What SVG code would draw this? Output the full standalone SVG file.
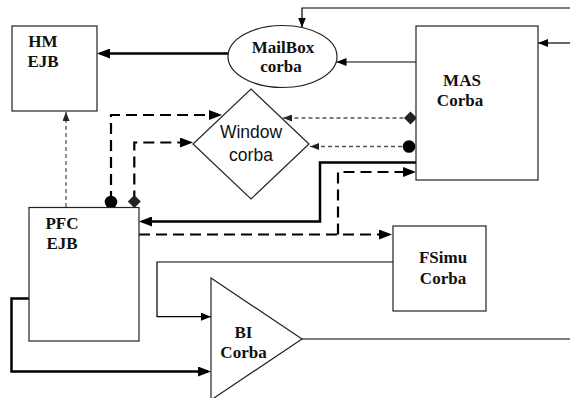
<svg xmlns="http://www.w3.org/2000/svg" width="570" height="398" viewBox="0 0 570 398">
<style>
.box{fill:#fff;stroke:#222;stroke-width:1.2}
.lbl{font-family:"Liberation Serif",serif;font-weight:bold;font-size:17px;fill:#111;text-anchor:middle}
.sans{font-family:"Liberation Sans",Arial,sans-serif;font-size:17.5px;fill:#111;text-anchor:middle}
.thin{fill:none;stroke:#000;stroke-width:1.2}
.thick{fill:none;stroke:#000;stroke-width:2.5}
.dash{fill:none;stroke:#000;stroke-width:2.2;stroke-dasharray:11,6}
.gdash{fill:none;stroke:#555;stroke-width:1.3;stroke-dasharray:4,3}
</style>
<defs>
<marker id="aThin" markerUnits="userSpaceOnUse" markerWidth="10" markerHeight="8" viewBox="0 0 10 8" refX="10" refY="4" orient="auto"><path d="M0,0 L10,4 L0,8 z" fill="#000"/></marker>
<marker id="aThick" markerUnits="userSpaceOnUse" markerWidth="13" markerHeight="10" viewBox="0 0 13 10" refX="10" refY="5" orient="auto"><path d="M0,0 L13,5 L0,10 z" fill="#000"/></marker>
<marker id="aGray" markerUnits="userSpaceOnUse" markerWidth="9" markerHeight="7" viewBox="0 0 9 7" refX="9" refY="3.5" orient="auto"><path d="M0,0 L9,3.5 L0,7 z" fill="#222"/></marker>
<marker id="mDot" markerUnits="userSpaceOnUse" markerWidth="14" markerHeight="14" viewBox="0 0 14 14" refX="7" refY="7" orient="auto"><circle cx="7" cy="7" r="6.3" fill="#000"/></marker>
<marker id="mDia" markerUnits="userSpaceOnUse" markerWidth="14" markerHeight="14" viewBox="0 0 14 14" refX="7" refY="7" orient="auto"><path d="M0.5,7 L7,0.5 L13.5,7 L7,13.5 z" fill="#222"/></marker>
</defs>

<g id="connectors">
<path class="thin" d="M570,8 H302 V27.5" marker-end="url(#aThin)"/>
<path class="thin" d="M570,43 H538" marker-end="url(#aThin)"/>
<path class="thin" d="M416,62 H336.5" marker-end="url(#aThin)"/>
<path class="thick" d="M228,53.5 H100" marker-end="url(#aThick)"/>
<path class="gdash" d="M66,207 V112" marker-end="url(#aGray)"/>
<path class="gdash" d="M410.5,118 H283" marker-start="url(#mDia)" marker-end="url(#aGray)"/>
<path class="gdash" d="M409,146.5 H310" marker-start="url(#mDot)" marker-end="url(#aGray)"/>
<path class="thick" d="M416,162.5 H320 V221.5 H142" marker-end="url(#aThick)"/>
<path class="dash" d="M139,234.5 H389" marker-end="url(#aThick)"/>
<path class="dash" d="M338,234.5 V172 H413" marker-end="url(#aThick)"/>
<path class="dash" d="M111,202 V115 H219" marker-start="url(#mDot)" marker-end="url(#aThick)"/>
<path class="dash" d="M134.3,201.5 V142.5 H190" marker-start="url(#mDia)" marker-end="url(#aThick)"/>
<path class="thin" d="M393,262 H157 V316.7 H211" marker-end="url(#aThin)"/>
<path class="thin" d="M302,339 H570"/>
<path class="thick" d="M29,298.5 H11.5 V371.5 H208" marker-end="url(#aThick)"/>
</g>

<g id="hm">
<rect class="box" x="12" y="26" width="85" height="85"/>
<text class="lbl" x="43" y="47">HM</text>
<text class="lbl" x="43" y="67">EJB</text>
</g>
<g id="mailbox">
<ellipse class="box" cx="282.5" cy="56.5" rx="54.5" ry="31"/>
<text class="lbl" x="283" y="53">MailBox</text>
<text class="lbl" x="281" y="72">corba</text>
</g>
<g id="mas">
<rect class="box" x="416" y="26" width="122" height="154"/>
<text class="lbl" x="462" y="86">MAS</text>
<text class="lbl" x="460" y="106">Corba</text>
</g>
<g id="window">
<path class="box" d="M251,89 L309,144 L251,199 L193,144 z"/>
<text class="sans" x="251" y="138">Window</text>
<text class="sans" x="251" y="161">corba</text>
</g>
<g id="pfc">
<rect class="box" x="29" y="207.5" width="110" height="133.5"/>
<text class="lbl" x="62" y="229">PFC</text>
<text class="lbl" x="62" y="249">EJB</text>
</g>
<g id="fsimu">
<rect class="box" x="393" y="226" width="93" height="85"/>
<text class="lbl" x="443" y="263">FSimu</text>
<text class="lbl" x="443" y="284">Corba</text>
</g>
<g id="bi">
<path class="box" d="M211,278 L302,339 L211,400 z"/>
<text class="lbl" x="243.5" y="337.5">BI</text>
<text class="lbl" x="243.5" y="357.5">Corba</text>
</g>
</svg>
